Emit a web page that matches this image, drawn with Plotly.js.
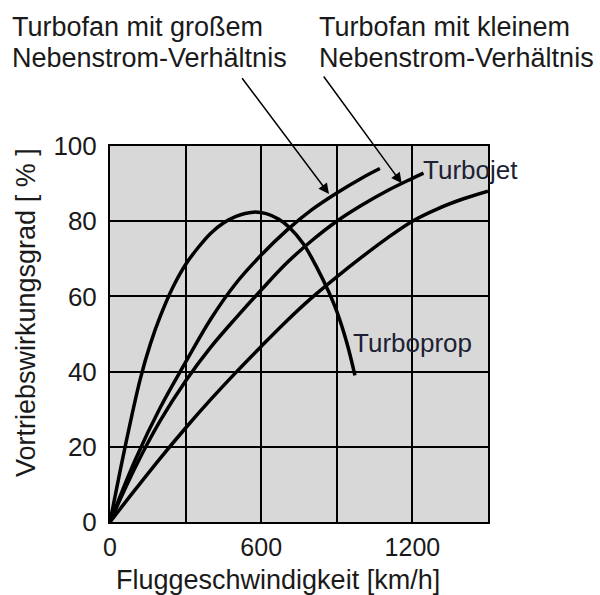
<!DOCTYPE html>
<html>
<head>
<meta charset="utf-8">
<script src="https://cdn.plot.ly/plotly-3.0.1.min.js"></script>
<style>html,body{margin:0;padding:0;background:#fff;}#chart{width:600px;height:595px;}</style>
</head>
<body>
<div id="chart"></div>
<script>
// Data
var turbopropX = [0, 60, 120, 160, 200, 250, 300, 350, 400, 450, 500, 568, 620, 670, 714, 767, 820, 866, 900, 940, 972];
var turbopropY = [0, 20, 38, 47.3, 54.8, 62.5, 68.5, 73, 76.8, 79.5, 81.3, 82.4, 82, 80.5, 78.2, 74, 67.8, 61.5, 56, 47.6, 39];

var fanLargeX = [0, 100, 200, 300, 400, 500, 600, 700, 800, 900, 1000, 1071];
var fanLargeY = [0, 16.5, 30.5, 42.5, 54, 63.5, 71, 77.5, 83, 87.5, 91.5, 94];

var fanSmallX = [0, 100, 200, 300, 400, 500, 600, 700, 800, 900, 1000, 1100, 1200, 1244];
var fanSmallY = [0, 14.5, 27, 37.5, 46.5, 54.3, 61.7, 68.8, 74.8, 80, 84.3, 88.1, 91.4, 92.8];

var jetX = [0, 100, 200, 300, 400, 500, 600, 700, 800, 900, 1000, 1100, 1200, 1300, 1400, 1500];
var jetY = [0, 8.6, 17, 25, 32.6, 39.8, 46.7, 53.4, 59.6, 65.2, 70.5, 75.5, 80, 83.3, 85.9, 88];

var xTickVals = [0, 300, 600, 900, 1200, 1500];
var xTickText = ['0', '', '600', '', '1200', ''];
var yTickVals = [0, 20, 40, 60, 80, 100];
var yTickText = ['0', '20', '40', '60', '80', '100'];

var labelFanLarge = ['Turbofan mit großem', 'Nebenstrom-Verhältnis'];
var labelFanSmall = ['Turbofan mit kleinem', 'Nebenstrom-Verhältnis'];
var labelJet = 'Turbojet';
var labelProp = 'Turboprop';
var xTitle = 'Fluggeschwindigkeit [km/h]';
var yTitle = 'Vortriebswirkungsgrad [ % ]';

// layout geometry
var W = 600, H = 595;
var L = 110, R = 488, T = 146, B = 522;
function px(x) { return (x - L) / (R - L); }
function py(y) { return (B - y) / (B - T); }

var FONT = '"Liberation Sans", Arial, Helvetica, sans-serif';
var TXT = '#1a1a1a';

function curve(x, y) {
  return {
    x: x, y: y, type: 'scatter', mode: 'lines',
    line: {color: '#000', width: 3.5, shape: 'spline', smoothing: 1},
    hoverinfo: 'skip', showlegend: false
  };
}

var data = [
  curve(turbopropX, turbopropY),
  curve(fanLargeX, fanLargeY),
  curve(fanSmallX, fanSmallY),
  curve(jetX, jetY)
];

function txt(text, x, y, size, color, xanchor, angle) {
  return {
    xref: 'paper', yref: 'paper', x: px(x), y: py(y),
    text: text, showarrow: false, xanchor: xanchor || 'left', yanchor: 'middle',
    textangle: angle || 0,
    font: {family: FONT, size: size, color: color || TXT}
  };
}

var annotations = [
  txt(labelFanLarge[0], 10, 27, 27),
  txt(labelFanLarge[1], 10, 58, 27),
  txt(labelFanSmall[0], 317, 27, 27),
  txt(labelFanSmall[1], 317, 58, 27),
  txt(labelJet, 421, 170, 26, '#1c2233'),
  txt(labelProp, 351, 343, 26, '#1c2233'),
  txt(xTitle, 278, 580, 27, TXT, 'center'),
  txt(yTitle, 26, 313, 27, TXT, 'center', -90),
  {
    xref: 'paper', yref: 'paper', x: px(329), y: py(194),
    ax: 241 - 329, ay: 76.7 - 194, axref: 'pixel', ayref: 'pixel',
    text: '', showarrow: true, arrowhead: 2, arrowsize: 1.4, arrowwidth: 1.5,
    arrowcolor: '#000', standoff: 0, startstandoff: 0
  },
  {
    xref: 'paper', yref: 'paper', x: px(401.7), y: py(183.3),
    ax: 322.6 - 401.7, ay: 75 - 183.3, axref: 'pixel', ayref: 'pixel',
    text: '', showarrow: true, arrowhead: 2, arrowsize: 1.4, arrowwidth: 1.5,
    arrowcolor: '#000', standoff: 0, startstandoff: 0
  }
];

var layout = {
  width: W, height: H,
  margin: {l: L, r: W - R, t: T, b: H - B, pad: 0},
  paper_bgcolor: '#ffffff',
  plot_bgcolor: '#d8d8d8',
  font: {family: FONT, size: 26, color: TXT},
  showlegend: false,
  xaxis: {
    range: [0, 1500], tickvals: xTickVals, ticktext: xTickText,
    showgrid: true, gridcolor: '#000', gridwidth: 2,
    zeroline: false, showline: true, linecolor: '#000', linewidth: 2, mirror: true,
    ticks: '', ticklabelstandoff: 2,
    tickfont: {family: FONT, size: 25, color: TXT},
    fixedrange: true
  },
  yaxis: {
    range: [0, 100], tickvals: yTickVals, ticktext: yTickText,
    showgrid: true, gridcolor: '#000', gridwidth: 2,
    zeroline: false, showline: true, linecolor: '#000', linewidth: 2, mirror: true,
    ticks: '', ticklabelstandoff: 6,
    tickfont: {family: FONT, size: 26, color: TXT},
    fixedrange: true
  },
  annotations: annotations
};

Plotly.newPlot('chart', data, layout, {displayModeBar: false, staticPlot: true});
</script>
</body>
</html>
